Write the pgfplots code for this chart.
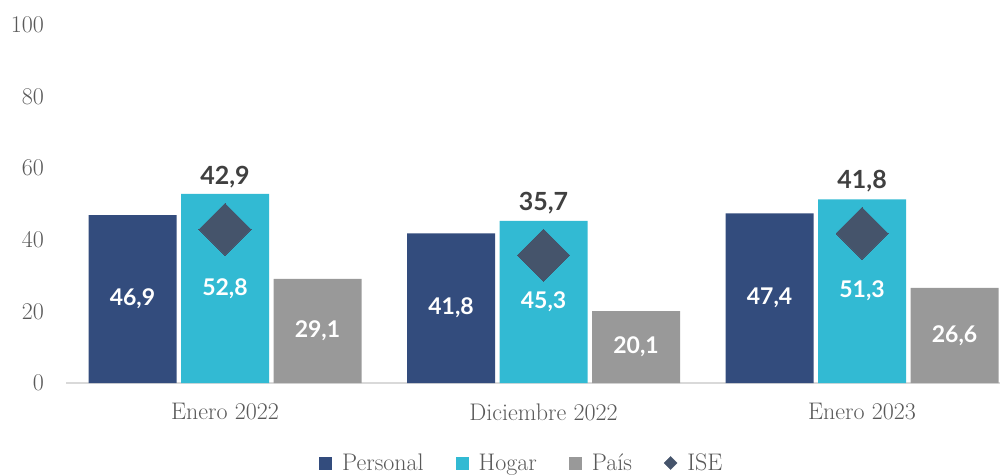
\documentclass[border=0pt]{standalone}
\usepackage{pgfplots}
\pgfplotsset{compat=1.18}
\usepackage{pgfplotstable}
\usepackage{fontspec}
\newfontfamily\lato{Lato}
\definecolor{cPers}{HTML}{334C7D}
\definecolor{cHog}{HTML}{32BAD3}
\definecolor{cPais}{HTML}{999999}
\definecolor{cIse}{HTML}{45546B}
\definecolor{cIseLab}{HTML}{404040}
\definecolor{cTxt}{HTML}{595959}
\definecolor{cAx}{HTML}{D9D9D9}
\pgfplotstableread{
x personal hogar pais ise
0 46.9 52.8 29.1 42.9
1 41.8 45.3 20.1 35.7
2 47.4 51.3 26.6 41.8
}\data
\begin{document}
\begin{tikzpicture}[x=1pt,y=1pt]
\path[use as bounding box] (0,0) rectangle (1006,475);
\begin{axis}[
  at={(66pt,92pt)}, anchor=south west,
  scale only axis, width=934pt, height=358pt,
  xmin=-0.4992, xmax=2.433, ymin=0, ymax=100,
  axis x line=bottom, axis y line=left,
  x axis line style={-, draw=cAx, line width=1.5pt},
  y axis line style={draw=none},
  major tick length=0pt,
  xtick={0,1,2},
  xticklabels={Enero 2022, Diciembre 2022, Enero 2023},
  ytick={0,20,40,60,80,100},
  /pgf/number format/assume math mode=true,
  tick label style={font=\fontsize{24}{27}\selectfont, text=cTxt},
  yticklabel style={anchor=east, inner sep=0pt, xshift=-22pt},
  xticklabel style={anchor=center, inner sep=0pt, yshift=-29pt},
  legend style={at={(0.488,-0.2235)}, anchor=center, draw=none, fill=none,
    font=\fontsize{24}{27}\selectfont, text=cTxt, legend columns=4,
    /tikz/every odd column/.append style={column sep=8pt},
    /tikz/every even column/.append style={column sep=30pt},
    inner sep=0pt},
  legend cell align=left,
]
\addplot[ybar, bar width=88pt, bar shift=-92.5pt, fill=cPers, draw=none,
  legend image code/.code={\fill[cPers] (0pt,-6.5pt) rectangle (13pt,6.5pt);}]
  table[x=x,y=personal]{\data};
\addlegendentry{Personal}
\addplot[ybar, bar width=88pt, bar shift=0pt, fill=cHog, draw=none,
  legend image code/.code={\fill[cHog] (0pt,-6.5pt) rectangle (13pt,6.5pt);}]
  table[x=x,y=hogar]{\data};
\addlegendentry{Hogar}
\addplot[ybar, bar width=88pt, bar shift=92.5pt, fill=cPais, draw=none,
  legend image code/.code={\fill[cPais] (0pt,-6.5pt) rectangle (13pt,6.5pt);}]
  table[x=x,y=pais]{\data};
\addlegendentry{País}
\addplot[only marks, mark=square*, mark size=18.4pt, color=cIse, mark options={rotate=45, fill=cIse, draw=cIse, line width=0pt},
  nodes near coords={\pgfmathprintnumber[fixed,fixed zerofill,precision=1,use comma,assume math mode=true]{\pgfplotspointmeta}},
  every node near coord/.style={anchor=center, yshift=52pt, text=cIseLab, font=\lato\bfseries\fontsize{25}{28}\selectfont},
  legend image code/.code={\fill[cIse] (6.5pt,-6.5pt) -- (13pt,0pt) -- (6.5pt,6.5pt) -- (0pt,0pt) -- cycle;}]
  table[x=x,y=ise]{\data};
\addlegendentry{ISE}
\addplot[forget plot, draw=none, mark=none,
  nodes near coords={\pgfmathprintnumber[fixed,fixed zerofill,precision=1,use comma,assume math mode=true]{\pgfplotspointmeta}},
  every node near coord/.style={anchor=center, xshift=-92.5pt, text=white, font=\lato\bfseries\fontsize{23}{26}\selectfont},
  point meta=explicit]
  table[x=x, y expr=\thisrow{personal}/2, meta=personal]{\data};
\addplot[forget plot, draw=none, mark=none,
  nodes near coords={\pgfmathprintnumber[fixed,fixed zerofill,precision=1,use comma,assume math mode=true]{\pgfplotspointmeta}},
  every node near coord/.style={anchor=center, xshift=0pt, text=white, font=\lato\bfseries\fontsize{23}{26}\selectfont},
  point meta=explicit]
  table[x=x, y expr=\thisrow{hogar}/2, meta=hogar]{\data};
\addplot[forget plot, draw=none, mark=none,
  nodes near coords={\pgfmathprintnumber[fixed,fixed zerofill,precision=1,use comma,assume math mode=true]{\pgfplotspointmeta}},
  every node near coord/.style={anchor=center, xshift=92.5pt, text=white, font=\lato\bfseries\fontsize{23}{26}\selectfont},
  point meta=explicit]
  table[x=x, y expr=\thisrow{pais}/2, meta=pais]{\data};
\end{axis}
\end{tikzpicture}
\end{document}
